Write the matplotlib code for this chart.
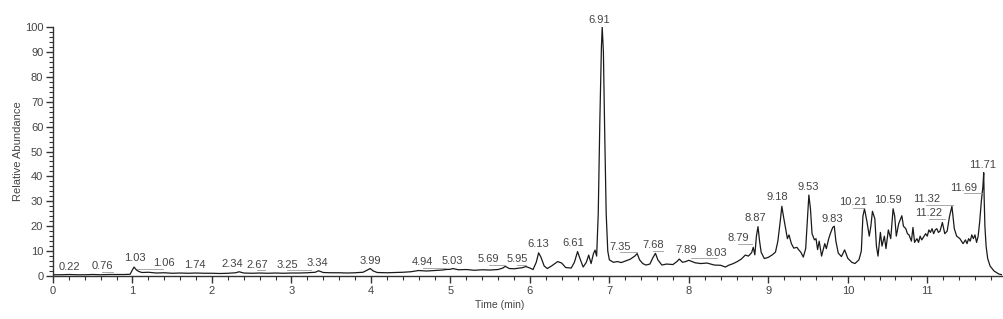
import matplotlib
matplotlib.use("Agg")
import matplotlib.pyplot as plt
from matplotlib.ticker import MultipleLocator

plt.rcParams['font.family'] = ['Liberation Sans', 'DejaVu Sans']

# ---- chromatogram trace (time in min, relative abundance %) ----
time = [0.0, 0.1, 0.2, 0.3, 0.4, 0.5, 0.6, 0.7, 0.8, 0.9, 0.97, 1.0, 1.02, 1.05, 1.08, 1.12,
        1.2, 1.3, 1.4, 1.5, 1.6, 1.7, 1.8, 1.9, 2.0, 2.1, 2.2, 2.3, 2.34, 2.4, 2.5, 2.6, 2.7,
        2.8, 2.9, 3.0, 3.1, 3.2, 3.3, 3.34, 3.4, 3.5, 3.6, 3.7, 3.8, 3.9, 3.95, 3.99, 4.03,
        4.08, 4.2, 4.3, 4.4, 4.5, 4.6, 4.7, 4.8, 4.9, 4.94, 5.0, 5.03, 5.1, 5.2, 5.3, 5.4,
        5.5, 5.6, 5.66, 5.69, 5.74, 5.8, 5.9, 5.95, 6.0, 6.04, 6.08, 6.11, 6.14, 6.18, 6.22,
        6.28, 6.35, 6.40, 6.45, 6.52, 6.56, 6.60, 6.63, 6.67, 6.71, 6.74, 6.77, 6.80, 6.82,
        6.84, 6.86, 6.88, 6.90, 6.91, 6.925, 6.94, 6.96, 6.98, 7.0, 7.05, 7.1, 7.15, 7.2,
        7.26, 7.32, 7.35, 7.38, 7.42, 7.46, 7.51, 7.55, 7.58, 7.61, 7.66, 7.72, 7.80, 7.85,
        7.88, 7.92, 7.96, 8.0, 8.04, 8.08, 8.15, 8.23, 8.32, 8.40, 8.46, 8.50, 8.56, 8.61,
        8.66, 8.71, 8.75, 8.79, 8.81, 8.83, 8.85, 8.87, 8.89, 8.91, 8.95, 9.0, 9.05, 9.09,
        9.12, 9.15, 9.17, 9.19, 9.22, 9.24, 9.26, 9.29, 9.32, 9.36, 9.38, 9.41, 9.44, 9.47,
        9.49, 9.51, 9.53, 9.55, 9.58, 9.60, 9.62, 9.64, 9.67, 9.71, 9.73, 9.76, 9.78, 9.81,
        9.83, 9.85, 9.88, 9.92, 9.96, 10.0, 10.05, 10.09, 10.14, 10.17, 10.19, 10.21, 10.24,
        10.27, 10.29, 10.31, 10.34, 10.36, 10.38, 10.41, 10.43, 10.46, 10.48, 10.51, 10.54,
        10.57, 10.59, 10.61, 10.64, 10.68, 10.70, 10.73, 10.75, 10.77, 10.80, 10.82, 10.84,
        10.87, 10.89, 10.91, 10.93, 10.95, 10.98, 11.0, 11.02, 11.04, 11.06, 11.08, 11.10,
        11.12, 11.14, 11.16, 11.19, 11.22, 11.25, 11.28, 11.31, 11.34, 11.37, 11.39, 11.41,
        11.43, 11.45, 11.48, 11.50, 11.52, 11.54, 11.56, 11.58, 11.60, 11.62, 11.64, 11.66,
        11.68, 11.69, 11.70, 11.71, 11.715, 11.725, 11.74, 11.76, 11.79, 11.84, 11.90, 11.95]
abundance = [0.5, 0.5, 0.6, 0.5, 0.5, 0.6, 0.5, 0.6, 0.6, 0.6, 0.7, 2.5, 3.6, 2.4, 1.8, 1.4,
             1.5, 1.2, 1.3, 1.1, 1.2, 1.1, 1.2, 1.1, 1.1, 1.0, 1.1, 1.3, 1.7, 1.2, 1.1, 1.2, 1.1,
             1.2, 1.1, 1.2, 1.2, 1.3, 1.5, 2.1, 1.4, 1.3, 1.3, 1.2, 1.3, 1.5, 2.3, 3.0, 2.0,
             1.4, 1.3, 1.4, 1.5, 1.7, 2.2, 2.0, 2.2, 2.4, 2.6, 2.7, 3.0, 2.5, 2.6, 2.3, 2.5,
             2.4, 2.6, 3.2, 3.9, 3.0, 2.9, 3.3, 3.8, 3.2, 2.6, 5.5, 9.3, 7.5, 4.0, 3.0,
             4.2, 5.8, 5.2, 3.4, 3.2, 5.5, 9.8, 7.0, 3.6, 5.5, 8.4, 5.0, 9.0, 10.4,
             8.0, 25.0, 62.0, 92.0, 100.0, 90.0, 60.0, 25.0, 10.0, 6.5, 5.5, 5.8, 5.4, 6.0,
             6.7, 8.0, 9.0, 6.5, 5.0, 4.4, 4.8, 7.5, 9.1, 6.5, 4.4, 4.8, 4.6, 5.8,
             6.8, 5.5, 5.8, 6.3, 5.8, 5.3, 5.0, 5.2, 4.4, 4.3, 3.6, 4.3, 5.0, 5.8,
             6.8, 8.4, 8.0, 9.4, 11.5, 8.5, 16.0, 19.8, 14.0, 9.5, 7.0, 7.5, 8.5, 9.6,
             14.0, 22.0, 28.0, 24.0, 18.6, 15.0, 16.5, 13.0, 11.2, 11.5, 10.6, 9.5, 7.6, 11.0,
             22.0, 32.5, 27.0, 17.0, 14.5, 15.0, 10.6, 14.0, 8.0, 13.0, 11.0, 15.0, 17.0, 19.5,
             20.0, 14.0, 9.2, 7.8, 10.5, 7.1, 5.5, 5.0, 6.5, 10.0, 24.0, 27.0, 22.0,
             16.0, 20.0, 26.0, 23.0, 12.0, 8.0, 17.5, 12.0, 16.0, 11.0, 18.5, 15.0,
             27.0, 24.0, 16.0, 21.0, 24.2, 20.0, 19.0, 17.0, 16.5, 14.0, 19.5, 13.5,
             15.0, 13.5, 16.0, 14.5, 15.5, 17.0, 16.0, 18.5, 17.5, 19.0, 17.0, 18.5,
             19.0, 17.5, 18.0, 21.5, 17.0, 18.0, 24.0, 28.0, 19.0, 16.0, 15.5, 15.0,
             14.0, 13.0, 14.5, 13.0, 15.0, 14.0, 16.5, 15.0, 16.5, 13.5, 16.0, 22.0,
             30.0, 33.0, 36.0, 41.5, 32.0, 20.0, 12.0, 7.0, 4.0, 2.0, 0.8, 0.4]

# ---- peak labels: text, label x (min), label y (%) ----
peak_labels = ["0.22", "0.76", "1.03", "1.06", "1.74", "2.34", "2.67", "3.25", "3.34", "3.99",
               "4.94", "5.03", "5.69", "5.95", "6.13", "6.61", "6.91", "7.35", "7.68", "7.89",
               "8.03", "8.79", "8.87", "9.18", "9.53", "9.83", "10.21", "10.59", "11.32",
               "11.22", "11.69", "11.71"]
label_x = [0.21, 0.62, 1.03, 1.39, 1.79, 2.25, 2.57, 2.95, 3.32, 3.99,
           4.65, 5.02, 5.48, 5.84, 6.11, 6.54, 6.87, 7.14, 7.55, 7.96,
           8.35, 8.62, 8.84, 9.11, 9.50, 9.81, 10.07, 10.51, 10.99,
           11.02, 11.46, 11.70]
label_y = [3.8, 4.0, 7.2, 5.2, 4.4, 4.8, 4.6, 4.6, 5.2, 6.2,
           5.6, 6.0, 6.8, 6.8, 12.8, 13.1, 102.8, 11.8, 12.4, 10.4,
           9.3, 15.2, 23.2, 31.7, 35.7, 22.9, 29.7, 30.5, 30.8,
           25.2, 35.5, 44.6]

x_ticks = list(range(0, 12))
y_ticks = list(range(0, 101, 10))

fig = plt.figure(figsize=(10.04, 3.19), dpi=100)
ax = fig.add_axes([53 / 1004, (319 - 276) / 319, (1002 - 53) / 1004, (276 - 27) / 319])

ax.plot(time, abundance, color='#1a1a1a', lw=0.9)

text_color = '#444444'
lead_color = '#9a9a9a'
for lab, lx, ly in zip(peak_labels, label_x, label_y):
    ax.text(lx, ly, lab, ha='center', va='center', fontsize=8, color=text_color,
            clip_on=False)
    pk = float(lab)
    if abs(pk - lx) > 0.09:
        ax.plot([lx, pk], [ly - 2.2, ly - 2.2], color=lead_color, lw=0.6, clip_on=False)

ax.set_xlim(0, 11.94)
ax.set_ylim(0, 100)
ax.set_xticks(x_ticks)
ax.set_yticks(y_ticks)
ax.xaxis.set_minor_locator(MultipleLocator(0.2))
ax.yaxis.set_minor_locator(MultipleLocator(2))
for s in ['top', 'right']:
    ax.spines[s].set_visible(False)
for s in ['left', 'bottom']:
    ax.spines[s].set_color('#333333')
    ax.spines[s].set_linewidth(1.0)
ax.tick_params(axis='both', which='major', direction='out', length=5, width=1,
               colors='#333333', labelsize=8, labelcolor=text_color, pad=2)
ax.tick_params(axis='both', which='minor', direction='out', length=3, width=0.8,
               colors='#333333')
ax.set_xlabel('Time (min)', fontsize=7.5, color=text_color, va='center')
ax.set_ylabel('Relative Abundance', fontsize=8, color=text_color, va='center')
ax.xaxis.set_label_coords((500 - 53) / 949, (276 - 305) / 249)
ax.yaxis.set_label_coords((18 - 53) / 949, 0.5 - (151.5 - 151.5) / 249)

fig.savefig('out.png', dpi=100)
